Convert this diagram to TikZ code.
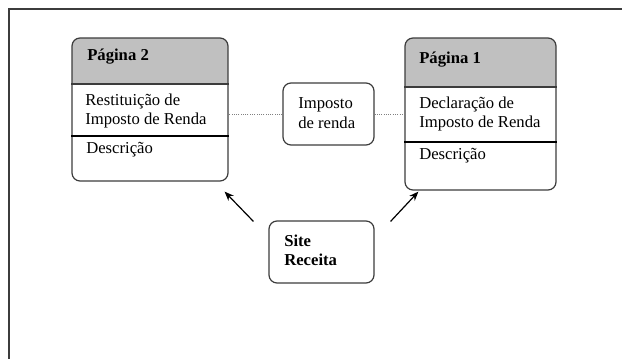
\documentclass[tikz,border=0pt]{standalone}
\usepackage{fontspec}
\setmainfont{Liberation Serif}
\usetikzlibrary{fit,arrows.meta}
\definecolor{headgray}{RGB}{192,192,192}
\definecolor{edgegray}{RGB}{60,60,60}
\tikzset{
  pagebox/.style={draw=edgegray, line width=0.9pt, rounded corners=6pt, inner sep=0pt},
  txt/.style={anchor=west, inner sep=0pt, align=left, font=\fontsize{12.5}{14.5}\selectfont},
  headtxt/.style={txt, font=\fontsize{12.5}{14.5}\selectfont\bfseries},
  link/.style={densely dotted, line width=0.7pt, draw=gray},
  arrow/.style={line width=0.9pt, -{Stealth[length=7pt,width=5.5pt]}}
}

\begin{document}
\begin{tikzpicture}[x=0.75pt,y=-0.75pt]
	\useasboundingbox (0,0) rectangle (622,359);
	\draw[line width=1.2pt, edgegray] (9,359) -- (9,9) -- (622,9);

	% Pagina 2
	\begin{scope}
		\clip[rounded corners=6pt] (72,38) rectangle (228,181);
		\fill[headgray] (72,38) rectangle (228,84);
	\end{scope}
	\node[pagebox, fit={(72,38) (228,181)}] (pag2) {};
	\draw[edgegray, line width=0.9pt] (pag2.west |- 0,84) -- (pag2.east |- 0,84);
	\draw[line width=0.9pt] (pag2.west |- 0,136) -- (pag2.east |- 0,136);
	\node[headtxt] (tit2) at (87,57) {Página 2};
	\node[txt] (rest) at (85,111) {Restituição de\\Imposto de Renda};
	\node[txt] (desc2) at (86,150) {Descrição};

	% Pagina 1
	\begin{scope}
		\clip[rounded corners=6pt] (405,38) rectangle (556,190);
		\fill[headgray] (405,38) rectangle (556,87);
	\end{scope}
	\node[pagebox, fit={(405,38) (556,190)}] (pag1) {};
	\draw[edgegray, line width=0.9pt] (pag1.west |- 0,87) -- (pag1.east |- 0,87);
	\draw[line width=0.9pt] (pag1.west |- 0,142) -- (pag1.east |- 0,142);
	\node[headtxt] (tit1) at (419,60) {Página 1};
	\node[txt] (decl) at (419,114) {Declaração de\\Imposto de Renda};
	\node[txt] (desc1) at (419,156) {Descrição};

	% Imposto de renda
	\node[pagebox, fit={(283,83) (374,145)}] (imp) {};
	\node[txt] (imptxt) at (298,113) {Imposto\\de renda};

	% Site Receita
	\node[pagebox, fit={(269,221) (374,283)}] (site) {};
	\node[headtxt] (sitetxt) at (284,250) {Site\\Receita};

	\draw[link] (imp.west) -- (imp.west -| pag2.east);
	\draw[link] (imp.east) -- (imp.east -| pag1.west);
	\draw[arrow] ([shift={(-15,1)}]site.north west) -- ([shift={(-4,10)}]pag2.south east);
	\draw[arrow] ([shift={(16,1)}]site.north east) -- ([shift={(14,1)}]pag1.south west);
\end{tikzpicture}
\end{document}
